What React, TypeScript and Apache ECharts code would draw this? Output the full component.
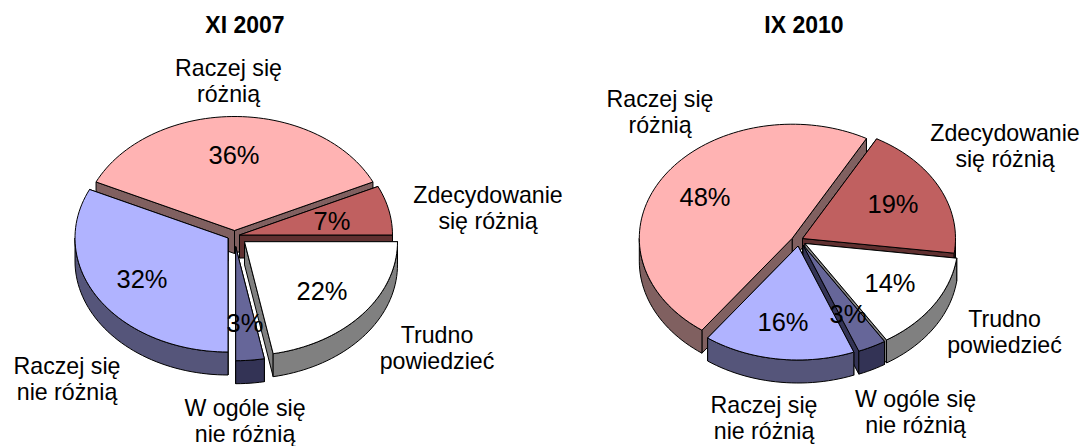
import React, { useEffect, useRef } from "react";
import * as echarts from "echarts";

const categories = ["Zdecydowanie się różnią", "Trudno powiedzieć", "W ogóle się nie różnią", "Raczej się nie różnią", "Raczej się różnią"];
const titles = ["XI 2007", "IX 2010"];
const values2007 = [7, 22, 3, 32, 36];
const values2010 = [19, 14, 3, 16, 48];
const labelLines2007 = ["Zdecydowanie\nsię różnią", "Trudno\npowiedzieć", "W ogóle się\nnie różnią", "Raczej się\nnie różnią", "Raczej się\nróżnią"];
const labelLines2010 = ["Zdecydowanie\nsię różnią", "Trudno\npowiedzieć", "W ogóle się\nnie różnią", "Raczej się\nnie różnią", "Raczej się\nróżnią"];

// layout (pixels), per category
const FONT = "Liberation Sans, Arial, sans-serif";
const RX = 153, RY = 114, DEPTH = 23;
const topColors = ["#C06060", "#FFFFFF", "#666699", "#B0B3FF", "#FFB3B3"];
const sideColors = ["#603030", "#808080", "#333355", "#55557A", "#806060"];
const pies = [
  {
    values: values2007, labels: labelLines2007, start: 64.8, titleX: 240,
    apex: [[239.5, 235], [244.5, 241.7], [235.7, 246.7], [228, 238], [234.5, 230.5]],
    pct: [[332, 221], [322, 291], [245, 323], [142, 279], [234, 155]],
    lab: [[488, 208], [437, 348], [245, 421], [67, 379], [228.5, 81]],
  },
  {
    values: values2010, labels: labelLines2010, start: 29, titleX: 799,
    apex: [[802.5, 238.5], [805, 243.5], [803, 245], [798, 246], [792.3, 238.2]],
    pct: [[893, 204], [890, 283], [848, 314], [783, 322], [705, 197]],
    lab: [[1005, 146], [1004.5, 332], [915.5, 412], [764, 418], [660, 112]],
  },
];

const pt = (c: number[], deg: number, dy = 0) => {
  const r = (deg * Math.PI) / 180;
  return [c[0] + RX * Math.sin(r), c[1] - RY * Math.cos(r) + dy];
};
const arc = (c: number[], a: number, b: number, dy = 0) => {
  const n = Math.max(2, Math.ceil(Math.abs(b - a) / 2));
  const out: number[][] = [];
  for (let i = 0; i <= n; i++) out.push(pt(c, a + ((b - a) * i) / n, dy));
  return out;
};

function spans(values: number[], start: number) {
  let a = start;
  return values.map((v) => {
    const s = [a, a + (v / 100) * 360];
    a = s[1];
    return s;
  });
}

function sliceSeries(pie: (typeof pies)[number]) {
  const sp = spans(pie.values, pie.start);
  const order = pie.values
    .map((_, i) => i)
    .sort((p, q) => {
      const m = (i: number) => Math.cos((((sp[i][0] + sp[i][1]) / 2) * Math.PI) / 180);
      return m(q) - m(p);
    });
  return {
    type: "custom",
    coordinateSystem: "none",
    silent: true,
    z: 2,
    data: order.map((i) => [i, pie.values[i]]),
    renderItem: (_: any, api: any) => {
      const i = api.value(0);
      const [a, b] = sp[i];
      const c = pie.apex[i];
      const side = sideColors[i];
      const line = { stroke: "#000", lineWidth: 1, lineJoin: "round" };
      const wall = (deg: number) => {
        const e = pt(c, deg);
        return {
          type: "polygon",
          shape: { points: [c, e, [e[0], e[1] + DEPTH], [c[0], c[1] + DEPTH]] },
          style: { fill: side, ...line },
        };
      };
      const children: any[] = [wall(a), wall(b)];
      for (const shift of [0, 360]) {
        const from = Math.max(a, 90 + shift);
        const to = Math.min(b, 270 + shift);
        if (to > from) {
          children.push({
            type: "polygon",
            shape: { points: [...arc(c, from, to), ...arc(c, to, from, DEPTH)] },
            style: { fill: side, ...line },
          });
        }
      }
      children.push({
        type: "polygon",
        shape: { points: [c, ...arc(c, a, b)] },
        style: { fill: topColors[i], ...line },
      });
      return { type: "group", children };
    },
  };
}

function textSeries(pie: (typeof pies)[number]) {
  return {
    type: "custom",
    coordinateSystem: "none",
    silent: true,
    z: 5,
    data: pie.values.map((v, i) => [i, v]),
    renderItem: (_: any, api: any) => {
      const i = api.value(0);
      const common = { fill: "#000", fontFamily: FONT, align: "center", verticalAlign: "middle" };
      return {
        type: "group",
        children: [
          {
            type: "text",
            x: pie.pct[i][0],
            y: pie.pct[i][1],
            style: { ...common, text: `${api.value(1)}%`, fontSize: 25.5 },
          },
          {
            type: "text",
            x: pie.lab[i][0],
            y: pie.lab[i][1],
            style: { ...common, text: pie.labels[i], fontSize: 23.2, lineHeight: 26.5 },
          },
        ],
      };
    },
  };
}

export default function App() {
  const ref = useRef<HTMLDivElement>(null);
  useEffect(() => {
    const chart = echarts.init(ref.current!, undefined, { renderer: "svg" });
    chart.setOption({
      animation: false,
      backgroundColor: "#fff",
      title: titles.map((t, i) => ({
        text: t,
        left: pies[i].titleX,
        top: 8,
        textAlign: "center",
        textStyle: { fontFamily: FONT, fontSize: 23, fontWeight: "bold", color: "#000" },
      })),
      series: [...pies.map(sliceSeries), ...pies.map(textSeries)],
    });
    return () => chart.dispose();
  }, []);
  return <div ref={ref} aria-label={categories.join(", ")} style={{ position: "absolute", left: 0, top: 0, width: 1082, height: 446 }} />;
}
